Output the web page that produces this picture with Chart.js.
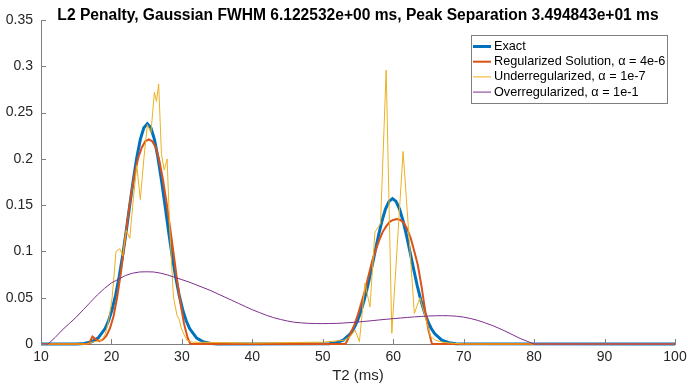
<!DOCTYPE html>
<html>
<head>
<meta charset="utf-8">
<script src="https://cdn.jsdelivr.net/npm/chart.js"></script>
<style>
  body { margin: 0; background: #ffffff; }
  #wrap { width: 688px; height: 385px; }
</style>
</head>
<body>
<div id="wrap"><canvas id="myChart"></canvas></div>
<script>
const titulo = "L2 Penalty, Gaussian FWHM 6.122532e+00 ms, Peak Separation 3.494843e+01 ms";
const ejeX = "T2 (ms)";
const etiquetas = [
  "Exact",
  "Regularized Solution, \u03b1 = 4e-6",
  "Underregularized, \u03b1 = 1e-7",
  "Overregularized, \u03b1 = 1e-1"
];
const colores = ["#0072BD", "#D95319", "#EDB120", "#7E2F8E"];
const grosores = [3, 2, 1, 1];

const xTicks = [10, 20, 30, 40, 50, 60, 70, 80, 90, 100];
const yTicks = [0, 0.05, 0.1, 0.15, 0.2, 0.25, 0.3, 0.35];
const yTickLabels = ["0", "0.05", "0.1", "0.15", "0.2", "0.25", "0.3", "0.35"];

// Exact
const exactX = [10, 15.1, 16.1, 17.1, 18.1, 19.1, 19.6, 20.1, 20.6, 21.1, 21.6, 22.1, 22.6, 23.1, 23.6, 24.1, 24.6,
  25.1, 25.6, 26.1, 26.6, 27.1, 27.6, 28.1, 28.6, 29.1, 29.6, 30.1, 30.6, 31.1, 32.1, 33.1, 34.1, 35.1,
  50.9, 51.9, 52.9, 53.9, 54.4, 54.9, 55.4, 55.9, 56.4, 56.9, 57.4, 57.9, 58.4, 58.9, 59.4,
  59.9, 60.4, 60.9, 61.4, 61.9, 62.4, 62.9, 63.4, 63.9, 64.4, 64.9, 65.4, 65.9, 66.9, 67.9, 68.9, 100];
const exactY = [0, 0.0001, 0.0006, 0.0021, 0.0064, 0.0167, 0.0254, 0.0374, 0.0532, 0.0728, 0.096, 0.122, 0.150, 0.177, 0.2015, 0.221, 0.2336,
  0.238, 0.2336, 0.221, 0.2015, 0.177, 0.150, 0.122, 0.096, 0.0728, 0.0532, 0.0374, 0.0254, 0.0167, 0.0064, 0.0021, 0.0006, 0.0001,
  0.0004, 0.0014, 0.0042, 0.011, 0.0168, 0.0247, 0.0351, 0.048, 0.0634, 0.0807, 0.0989, 0.1168, 0.1329, 0.1458, 0.1541,
  0.157, 0.1541, 0.1458, 0.1329, 0.1168, 0.0989, 0.0807, 0.0634, 0.048, 0.0351, 0.0247, 0.0168, 0.011, 0.0042, 0.0014, 0.0004, 0];

// Regularized, alpha 4e-6
const regX = [10, 16.8, 17.3, 17.8, 18.3, 18.8, 19.3, 19.8, 20.3, 20.8, 21.3, 21.8, 22.3, 22.8, 23.3, 23.8, 24.3, 24.8,
  25.3, 25.8, 26.3, 26.8, 27.3, 27.8, 28.3, 28.8, 29.3, 29.8, 30.3, 30.8, 31.2,
  53.2, 53.5, 54, 54.5, 55, 55.5, 56, 56.5, 57, 57.5, 58, 58.5, 59, 59.5, 60, 60.5, 61, 61.5, 62, 62.5, 63, 63.5, 64, 64.5, 65, 65.5, 100];
const regY = [0, 0, 0.008, 0.005, 0.003, 0.005, 0.009, 0.017, 0.03, 0.05, 0.075, 0.105, 0.135, 0.162, 0.184, 0.201, 0.212, 0.219,
  0.221, 0.219, 0.212, 0.198, 0.178, 0.154, 0.127, 0.099, 0.07, 0.044, 0.022, 0.007, 0,
  0, 0.004, 0.012, 0.021, 0.032, 0.045, 0.058, 0.074, 0.089, 0.101, 0.112, 0.121, 0.127, 0.132, 0.134, 0.135, 0.134, 0.131, 0.124, 0.114, 0.1, 0.085, 0.063, 0.038, 0.015, 0, 0];

// Underregularized, alpha 1e-7
const underX = [10, 16.5, 17.3, 18, 18.6, 19.1, 19.6, 20.1, 20.65, 21.2, 21.6, 22.1, 22.6, 23.1, 23.6, 24.1, 24.6, 25.1, 25.6,
  26.1, 26.4, 26.7, 27.1, 27.5, 27.9, 28.3, 28.8, 29.3, 29.6, 30.0, 30.7, 31.5, 40, 50, 53, 53.9, 54.6, 55.2, 56.0, 56.7,
  57.4, 58.2, 59.0, 59.8, 61.4, 63.0, 63.8, 65.3, 66, 67, 68, 70, 100];
const underY = [0, 0, 0.002, 0.003, 0.004, 0.01, 0.025, 0.05, 0.1, 0.103, 0.095, 0.123, 0.114, 0.156, 0.193, 0.156, 0.2, 0.237, 0.228,
  0.272, 0.262, 0.281, 0.205, 0.188, 0.2, 0.12, 0.051, 0.031, 0.027, 0.015, 0.004, 0.002, 0.001, 0.002, 0.004, 0.008, 0.015, 0.0025, 0.066, 0.04,
  0.121, 0.13, 0.296, 0.0115, 0.208, 0.033, 0.05, 0.008, 0.004, 0.002, 0.001, 0, 0];

// Overregularized, alpha 1e-1
const overX = [10, 11, 12, 13, 14, 15, 16, 17, 18, 19, 20, 21, 22, 23, 24, 25, 26, 27, 28, 29, 30, 31, 32, 33, 34, 35, 36, 37, 38, 39,
  40, 41, 42, 43, 44, 45, 46, 47, 48, 49, 50, 51, 52, 53, 54, 55, 56, 57, 58, 59, 60, 61, 62, 63, 64, 65, 66, 67, 68, 69,
  70, 71, 72, 73, 74, 75, 76, 77, 78, 79, 80, 100];
const overY = [0, 0, 0.007, 0.015, 0.022, 0.029, 0.037, 0.045, 0.053, 0.06, 0.066, 0.07, 0.074, 0.0765, 0.0778, 0.078, 0.0778, 0.0765, 0.0745, 0.072,
  0.0695, 0.067, 0.064, 0.061, 0.058, 0.0545, 0.051, 0.0475, 0.044, 0.0405, 0.037, 0.034, 0.031, 0.0285, 0.0265, 0.0248, 0.0235, 0.0228, 0.0223, 0.0221,
  0.022, 0.0221, 0.0223, 0.0227, 0.0232, 0.0238, 0.0245, 0.0252, 0.026, 0.0267, 0.0274, 0.028, 0.0287, 0.0293, 0.0298, 0.0302, 0.0305, 0.0306, 0.0305, 0.03,
  0.029, 0.0275, 0.0255, 0.023, 0.0202, 0.017, 0.0135, 0.0098, 0.006, 0.003, 0, 0];

const colorEje = "#7f7f7f";
const colorTexto = "#262626";
const fuente = "'Liberation Sans', Arial, sans-serif";

const puntos = (xs, ys) => xs.map((x, i) => ({ x: x, y: ys[i] }));
const series = [puntos(exactX, exactY), puntos(regX, regY), puntos(underX, underY), puntos(overX, overY)];

// ticks hacia adentro, estilo matlab
const ticksAdentro = {
  id: "ticksAdentro",
  afterDatasetsDraw(chart) {
    const { ctx, chartArea, scales } = chart;
    ctx.save();
    ctx.strokeStyle = colorEje;
    ctx.lineWidth = 1;
    xTicks.forEach((v) => {
      const px = Math.round(scales.x.getPixelForValue(v)) + 0.5;
      ctx.beginPath();
      ctx.moveTo(px, chartArea.bottom);
      ctx.lineTo(px, chartArea.bottom - 5);
      ctx.stroke();
    });
    yTicks.forEach((v) => {
      const py = Math.round(scales.y.getPixelForValue(v)) + 0.5;
      ctx.beginPath();
      ctx.moveTo(chartArea.left, py);
      ctx.lineTo(chartArea.left + 5, py);
      ctx.stroke();
    });
    ctx.restore();
  }
};

// titulo centrado sobre el area del grafico
const tituloArea = {
  id: "tituloArea",
  afterDraw(chart) {
    const { ctx, chartArea } = chart;
    ctx.save();
    ctx.font = "bold 15.6px " + fuente;
    ctx.fillStyle = "#000000";
    ctx.textAlign = "center";
    ctx.textBaseline = "alphabetic";
    ctx.fillText(titulo, (chartArea.left + chartArea.right) / 2, 20);
    ctx.restore();
  }
};

// leyenda con caja
const leyendaCaja = {
  id: "leyendaCaja",
  afterDraw(chart) {
    const { ctx, chartArea } = chart;
    const w = 196, h = 68;
    const left = chartArea.right - 8 - w;
    const top = chartArea.top + 15;
    ctx.save();
    ctx.fillStyle = "#ffffff";
    ctx.fillRect(left, top, w, h);
    ctx.strokeStyle = colorEje;
    ctx.lineWidth = 1;
    ctx.strokeRect(Math.round(left) + 0.5, Math.round(top) + 0.5, w, h);
    ctx.font = "12.7px " + fuente;
    ctx.textBaseline = "middle";
    ctx.fillStyle = "#000000";
    chart.data.datasets.forEach((ds, i) => {
      const y = top + 11.5 + i * 15.2;
      ctx.strokeStyle = ds.borderColor;
      ctx.lineWidth = ds.borderWidth;
      ctx.beginPath();
      ctx.moveTo(left + 2, y);
      ctx.lineTo(left + 20, y);
      ctx.stroke();
      ctx.fillText(ds.label, left + 23, y);
    });
    ctx.restore();
  }
};

new Chart(document.getElementById("myChart"), {
  type: "line",
  data: {
    datasets: series.map((d, i) => ({
      label: etiquetas[i],
      data: d,
      borderColor: colores[i],
      backgroundColor: colores[i],
      borderWidth: grosores[i],
      pointRadius: 0,
      tension: 0,
      fill: false,
      clip: false,
      order: 4 - i // el ultimo queda encima
    }))
  },
  options: {
    responsive: true,
    maintainAspectRatio: false,
    animation: false,
    layout: { padding: { left: 0, right: 13, top: 20, bottom: 0 } },
    plugins: {
      legend: { display: false },
      tooltip: { enabled: false },
      title: { display: false }
    },
    scales: {
      x: {
        type: "linear",
        min: 10,
        max: 100,
        afterBuildTicks: (s) => { s.ticks = xTicks.map((v) => ({ value: v })); },
        afterFit: (s) => { s.height = 41; s.paddingLeft = 0; s.paddingRight = 0; },
        grid: { display: false, drawTicks: false },
        border: { display: true, color: colorEje, width: 1 },
        ticks: {
          color: colorTexto,
          font: { family: fuente, size: 14 },
          padding: 5,
          maxRotation: 0,
          autoSkip: false,
          callback: (v) => String(v)
        },
        title: {
          display: true,
          text: ejeX,
          color: colorTexto,
          font: { family: fuente, size: 15 },
          padding: { top: 3, bottom: 0 }
        }
      },
      y: {
        type: "linear",
        min: 0,
        max: 0.35,
        afterBuildTicks: (s) => { s.ticks = yTicks.map((v) => ({ value: v })); },
        afterFit: (s) => { s.width = 41; s.paddingTop = 0; s.paddingBottom = 0; },
        grid: { display: false, drawTicks: false },
        border: { display: true, color: colorEje, width: 1 },
        ticks: {
          color: colorTexto,
          font: { family: fuente, size: 14 },
          padding: 8,
          autoSkip: false,
          callback: (v, i) => yTickLabels[i]
        }
      }
    }
  },
  plugins: [ticksAdentro, tituloArea, leyendaCaja]
});
</script>
</body>
</html>
